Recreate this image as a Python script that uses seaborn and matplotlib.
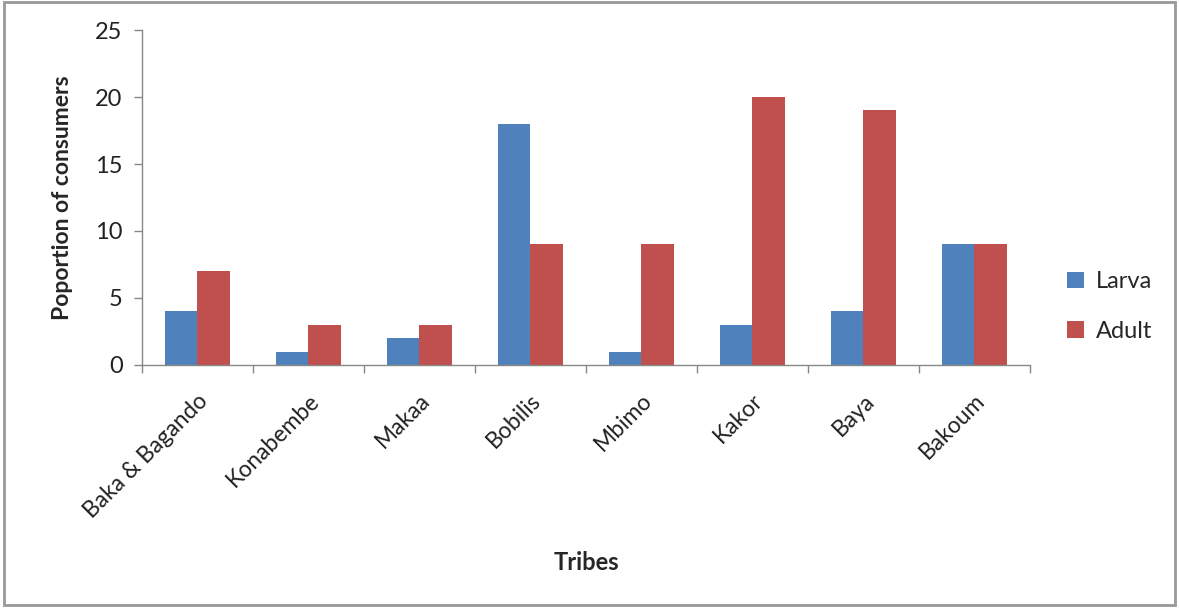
import matplotlib
matplotlib.use("Agg")
import matplotlib.pyplot as plt
from matplotlib.patches import Rectangle
import seaborn as sns
import pandas as pd

tribes = ["Baka & Bagando", "Konabembe", "Makaa", "Bobilis", "Mbimo", "Kakor", "Baya", "Bakoum"]
larva = [4, 1, 2, 18, 1, 3, 4, 9]
adult = [7, 3, 3, 9, 9, 20, 19, 9]
y_ticks = [0, 5, 10, 15, 20, 25]

df = pd.DataFrame({
    "Tribe": tribes * 2,
    "Stage": ["Larva"] * len(tribes) + ["Adult"] * len(tribes),
    "Value": larva + adult,
})

sns.set_style("white")
plt.rcParams["font.family"] = ["Lato", "DejaVu Sans"]

fig = plt.figure(figsize=(11.79, 6.09), dpi=100)
ax = fig.add_axes([0.1204, 0.4007, 0.7532, 0.55])

sns.barplot(data=df, x="Tribe", y="Value", hue="Stage",
            palette={"Larva": "#4F81BD", "Adult": "#C0504D"},
            width=0.58, saturation=1, ax=ax, legend=True, errorbar=None,
            linewidth=0)

ax.set_xlim(-0.5, len(tribes) - 0.5)
ax.set_ylim(0, 25)
ax.set_yticks(y_ticks)
ax.set_yticklabels([str(t) for t in y_ticks], fontsize=17, color="#222222")
ax.tick_params(axis="y", length=6, width=1, color="#888888", direction="out", left=True, pad=8)

# category boundaries carry the x ticks
ax.set_xticks([i - 0.5 for i in range(len(tribes) + 1)], minor=False)
ax.set_xticklabels([""] * (len(tribes) + 1))
ax.set_xticks(list(range(len(tribes))), minor=True)
ax.set_xticklabels(tribes, minor=True, rotation=45, ha="right",
                   rotation_mode="anchor", fontsize=16.5, color="#222222")
ax.tick_params(axis="x", which="major", length=6, width=1, color="#888888",
               direction="out", bottom=True)
ax.tick_params(axis="x", which="minor", length=0, pad=18)

for side in ["top", "right"]:
    ax.spines[side].set_visible(False)
for side in ["left", "bottom"]:
    ax.spines[side].set_color("#888888")
    ax.spines[side].set_linewidth(1)

ax.set_xlabel("")
ax.set_ylabel("Poportion of consumers", fontsize=16.5, fontweight="bold", labelpad=16)
fig.text(0.497, 0.077, "Tribes", ha="center", va="center", fontsize=17, fontweight="bold")

leg = ax.legend(loc="center left", bbox_to_anchor=(1.018, 0.175), frameon=False,
                fontsize=17, handlelength=0.7, handleheight=0.7, labelspacing=1.2,
                handletextpad=0.5)

fig.patches.append(Rectangle((0.003, 0.006), 0.994, 0.99, transform=fig.transFigure,
                             fill=False, edgecolor="#999999", linewidth=2))

fig.savefig("out.png", dpi=100, facecolor="white")
